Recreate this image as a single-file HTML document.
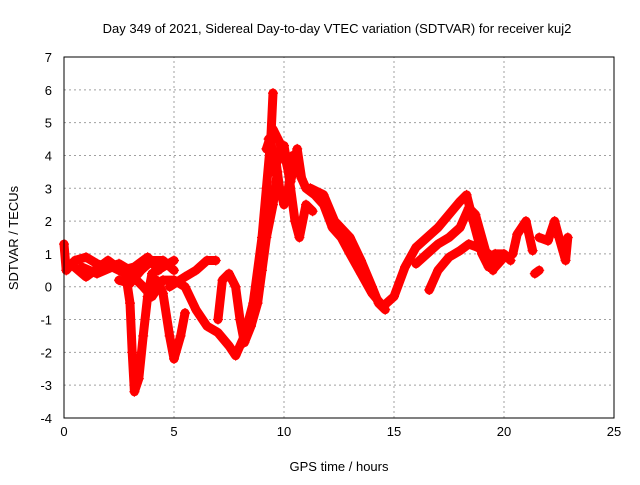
<!DOCTYPE html>
<html><head><meta charset="utf-8"><style>
body{margin:0;background:#fff}
svg{font-family:"Liberation Sans",sans-serif;font-size:13px}
</style></head><body>
<svg id="c" width="640" height="480"></svg>
<script>
const xTicks=[0,5,10,15,20,25];
const yTicks=[-4,-3,-2,-1,0,1,2,3,4,5,6,7];
const track1=[[0,1.3],[0.1,0.5],[0.5,0.8],[1,0.9],[1.5,0.7],[2,0.6],[2.5,0.7],[3,0.5],[3.3,0.2],[3.6,0],[4,-0.3],[4.5,0.2],[5,0.2],[5.5,0],[6,-0.7],[6.5,-1.2],[7,-1.4],[7.5,-1.8],[7.8,-2.1],[8.2,-1.5],[8.6,-0.5],[9,1.5],[9.2,3],[9.4,4.5],[9.5,5.9]];
const track2=[[0.8,0.6],[1.5,0.4],[2.2,0.6],[2.8,0.4],[3,-0.5],[3.1,-2],[3.2,-3.2],[3.4,-2.8],[3.6,-1.5],[3.8,-0.3],[4,0.4],[4.5,0.6],[5,0.8]];
const track3=[[2.5,0.2],[3,0.1],[3.5,0.5],[4,0.8],[4.5,0.8],[5,0.5]];
const track4=[[4.2,0.2],[4.5,-0.2],[4.8,-1.5],[5,-2.2],[5.3,-1.5],[5.5,-0.8]];
const track5=[[4.8,0],[5.5,0.3],[6,0.5],[6.5,0.8],[6.9,0.8]];
const track6=[[7,-1],[7.2,0.2],[7.5,0.4],[7.8,0],[8,-1],[8.2,-1.7],[8.5,-1.2],[8.8,-0.5],[9,0.5],[9.2,1.5],[9.5,2.5],[9.7,3.5]];
const track7=[[9.3,4.5],[9.6,4],[9.8,3],[10,2.5],[10.2,3],[10.4,4],[10.6,3.6],[11,3],[11.4,2.8],[11.8,2.5],[12.2,1.8],[12.6,1.5],[13,1],[13.5,0.4],[14,-0.2],[14.5,-0.6],[15,-0.3],[15.5,0.6],[16,1.2],[16.5,1.5],[17,1.8],[17.5,2.2],[18,2.6],[18.3,2.8],[18.6,2],[19,1],[19.3,0.6],[19.6,1],[20,1],[20.3,0.8]];
const track8=[[9.5,3.5],[10,4.3],[10.2,3.5],[10.5,2],[10.7,1.5],[11,2.5],[11.3,2.3]];
const track9=[[11.2,3],[11.8,2.8],[12.3,2],[13,1.5],[13.5,0.8],[14,0],[14.3,-0.5],[14.6,-0.7]];
const track10=[[16,0.7],[16.5,1],[17,1.3],[17.5,1.5],[18,1.8],[18.4,2.4],[18.7,2.2],[19.2,1],[19.5,0.5]];
const track11=[[16.6,-0.1],[17,0.5],[17.5,0.9],[18,1.1],[18.4,1.3],[18.8,1.2],[19.3,1],[19.6,0.6],[20,0.9]];
const track12=[[20.4,1],[20.6,1.6],[21,2],[21.3,1.1]];
const track13=[[21.4,0.4],[21.6,0.5]];
const track14=[[21.6,1.5],[22,1.4],[22.3,2],[22.5,1.5],[22.8,0.8],[22.9,1.5]];
const track15=[[9.2,4.2],[9.5,4.8],[9.8,4.4],[10.1,3.8],[10.3,3.2],[10.6,4.2],[10.8,3.3]];
const track16=[[0.3,0.7],[1,0.3],[2,0.8],[2.6,0.5],[3.2,0.6],[3.8,0.9],[4.3,0.5]];
const tracks=[track1,track2,track3,track4,track5,track6,track7,track8,track9,track10,track11,track12,track13,track14,track15,track16];
const X0=64,X1=614,Y0=418,Y1=57;
const sx=t=>X0+(t-0)/(25-0)*(X1-X0);
const sy=v=>Y0-(v+4)/11*(Y0-Y1);
const svg=document.getElementById('c');
const NS='http://www.w3.org/2000/svg';
function mk(tag,attrs,parent){const e=document.createElementNS(NS,tag);for(const k in attrs)e.setAttribute(k,attrs[k]);(parent||svg).appendChild(e);return e;}
xTicks.forEach(t=>{
  const g=mk('line',{x1:sx(t),x2:sx(t),y1:Y0,y2:Y1,stroke:'#a0a0a0','stroke-dasharray':'2,3'});
  
  
  const l=mk('text',{x:sx(t),y:Y0+18,'text-anchor':'middle',fill:'#000'});l.textContent=t;
  
  
});
yTicks.forEach(v=>{
  const g=mk('line',{x1:X0,x2:X1,y1:sy(v),y2:sy(v),stroke:'#a0a0a0','stroke-dasharray':'2,3'});
  
  
  const l=mk('text',{x:X0-12,y:sy(v)+5,'text-anchor':'end',fill:'#000'});l.textContent=v;
  
  
});
tracks.forEach(tr=>{
  const p=mk('polyline',{points:tr.map(d=>sx(d[0])+','+sy(d[1])).join(' '),fill:'none',stroke:'#ff0000','stroke-width':9,'stroke-linejoin':'round','stroke-linecap':'round'});
  
  
  tr.forEach(d=>{
    const m=mk('path',{d:`M${sx(d[0])-5},${sy(d[1])}h10M${sx(d[0])},${sy(d[1])-5}v10`,stroke:'#ff0000','stroke-width':1.2});
    
    
  });
});
const b=mk('rect',{x:X0,y:Y1,width:X1-X0,height:Y0-Y1,fill:'none',stroke:'#000'});


const ti=mk('text',{x:337,y:33,'text-anchor':'middle'});ti.textContent='Day 349 of 2021, Sidereal Day-to-day VTEC variation (SDTVAR) for receiver kuj2';


const xl=mk('text',{x:339,y:471,'text-anchor':'middle'});xl.textContent='GPS time / hours';


const yl=mk('text',{x:0,y:0,'text-anchor':'middle',transform:'translate(18,238) rotate(-90)'});yl.textContent='SDTVAR / TECUs';


</script>
</body></html>
